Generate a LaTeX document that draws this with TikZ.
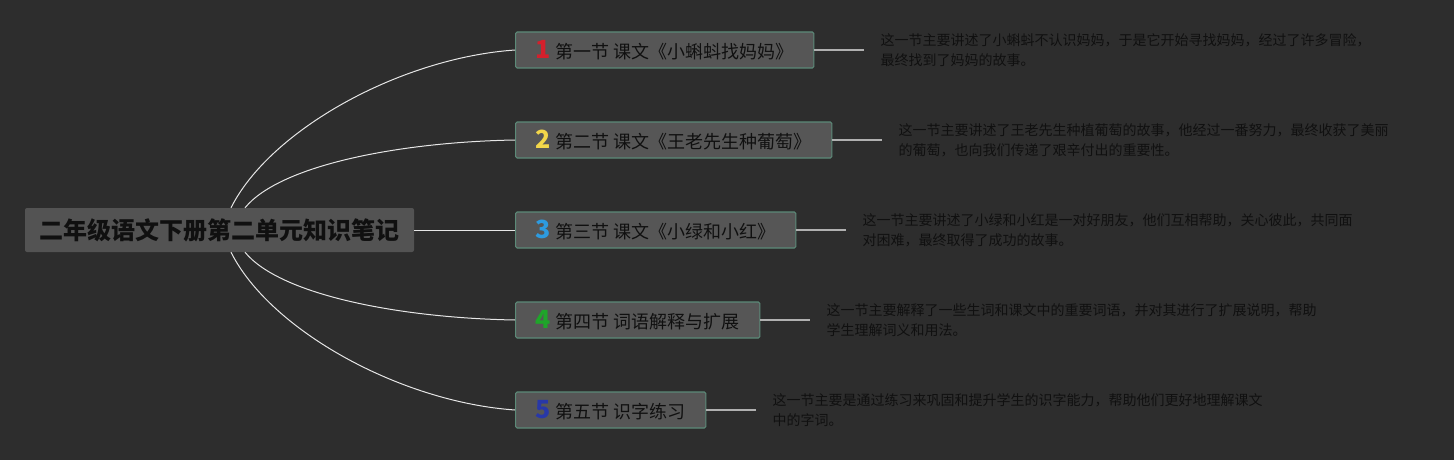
\documentclass[tikz,border=0pt]{standalone}
\usepackage{fontspec}
\setmainfont{Noto Sans CJK SC}
\definecolor{bg}{HTML}{2D2D2D}
\definecolor{rootfill}{HTML}{535353}
\definecolor{boxfill}{HTML}{565656}
\definecolor{boxedge}{HTML}{5C8A78}
\definecolor{txt}{HTML}{101010}
\definecolor{linkc}{HTML}{B0B0B0}
\definecolor{curvec}{HTML}{E6E6E6}
\definecolor{cone}{HTML}{D4202C}
\definecolor{ctwo}{HTML}{F2D64A}
\definecolor{cthree}{HTML}{2D9BE0}
\definecolor{cfour}{HTML}{1FA52A}
\definecolor{cfive}{HTML}{2838A8}
\newcommand{\secnum}[2]{{\fontsize{25}{25}\selectfont\bfseries\color{#1}#2}\hspace{5pt}}
\begin{document}
\begin{tikzpicture}[x=1pt,y=-1pt,
  rootbox/.style={fill=rootfill, rounded corners=2pt, minimum width=389pt, minimum height=44pt, inner sep=0pt, font=\fontsize{24}{28}\selectfont\bfseries, text=txt},
  secbox/.style={fill=boxfill, draw=boxedge, line width=1.2pt, rounded corners=1.5pt, minimum height=36pt, inner xsep=20pt, inner ysep=0pt, anchor=west, font=\fontsize{18}{20}\selectfont, text=txt},
  desc/.style={anchor=west, inner xsep=16pt, inner ysep=0pt, align=left, font=\fontsize{14}{20}\selectfont, text=txt},
  link/.style={draw=linkc, line width=1.3pt},
  curve/.style={draw=curvec, line width=1pt}
]
\fill[bg] (0,0) rectangle (1454,460);
\useasboundingbox (0,0) rectangle (1454,460);

\node[rootbox] (r) at (219.5,230) {二年级语文下册第二单元知识笔记};

\node[secbox] (b1) at (515,50) {\secnum{cone}{1}第一节 课文《小蝌蚪找妈妈》};
\node[secbox] (b2) at (515,140) {\secnum{ctwo}{2}第二节 课文《王老先生种葡萄》};
\node[secbox] (b3) at (515,230) {\secnum{cthree}{3}第三节 课文《小绿和小红》};
\node[secbox] (b4) at (515,320) {\secnum{cfour}{4}第四节 词语解释与扩展};
\node[secbox] (b5) at (515,410) {\secnum{cfive}{5}第五节 识字练习};

\node[desc] (d1) at ([xshift=50pt]b1.east) {这一节主要讲述了小蝌蚪不认识妈妈，于是它开始寻找妈妈，经过了许多冒险，\\最终找到了妈妈的故事。};
\node[desc] (d2) at ([xshift=50pt]b2.east) {这一节主要讲述了王老先生种植葡萄的故事，他经过一番努力，最终收获了美丽\\的葡萄，也向我们传递了艰辛付出的重要性。};
\node[desc] (d3) at ([xshift=50pt]b3.east) {这一节主要讲述了小绿和小红是一对好朋友，他们互相帮助，关心彼此，共同面\\对困难，最终取得了成功的故事。};
\node[desc] (d4) at ([xshift=50pt]b4.east) {这一节主要解释了一些生词和课文中的重要词语，并对其进行了扩展说明，帮助\\学生理解词义和用法。};
\node[desc] (d5) at ([xshift=50pt]b5.east) {这一节主要是通过练习来巩固和提升学生的识字能力，帮助他们更好地理解课文\\中的字词。};

\draw[curve] ([xshift=11.5pt]r.north) .. controls (270,130) and (400,58) .. (b1.west);
\draw[curve] ([xshift=25.5pt]r.north) .. controls (280,165) and (400,142) .. (b2.west);
\draw[curve] (r.east) -- (b3.west);
\draw[curve] ([xshift=25.5pt]r.south) .. controls (280,295) and (400,318) .. (b4.west);
\draw[curve] ([xshift=11.5pt]r.south) .. controls (270,330) and (400,402) .. (b5.west);

\foreach \i in {1,...,5} { \draw[link] (b\i.east) -- (d\i.west); }
\end{tikzpicture}
\end{document}
